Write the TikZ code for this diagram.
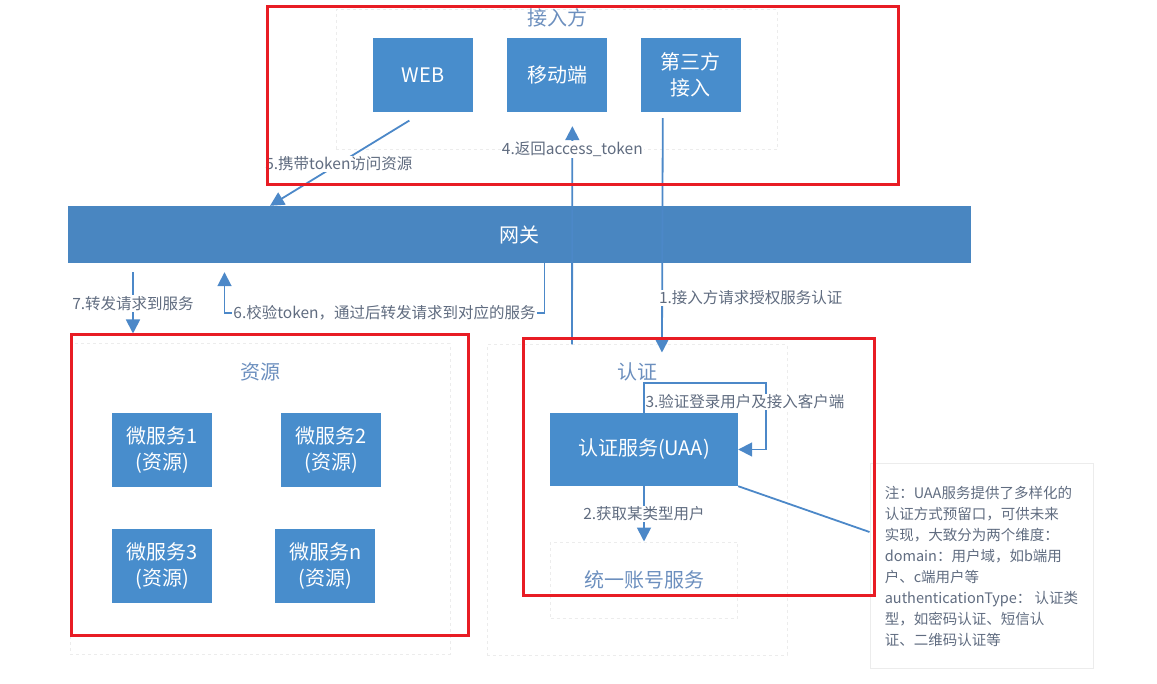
\documentclass[tikz,border=0pt]{standalone}
\usepackage{fontspec}
\setmainfont{Noto Sans CJK SC}
\usepackage{xcolor}
\usetikzlibrary{positioning,calc,arrows.meta}
\definecolor{boxblue}{RGB}{72,141,204}
\definecolor{gwblue}{RGB}{73,134,193}
\definecolor{lineblue}{RGB}{76,136,200}
\definecolor{lblgray}{RGB}{96,108,128}
\definecolor{ttlblue}{RGB}{108,143,190}
\definecolor{markred}{RGB}{232,28,36}

\begin{document}
\begin{tikzpicture}[
    x=1pt, y=-1pt,
    box/.style={rectangle, fill=boxblue, text=white, minimum width=100pt, minimum height=74pt, font=\fontsize{20}{26}\selectfont, align=center, inner sep=2pt},
    gw/.style={rectangle, fill=gwblue, text=white, minimum width=903pt, minimum height=57pt, font=\fontsize{20}{24}\selectfont},
    zone/.style={rectangle, draw=gray!15, dashed, line width=1pt},
    ttl/.style={text=ttlblue, font=\fontsize{20}{24}\selectfont},
    lbl/.style={fill=white, text=lblgray, font=\fontsize{15.5}{18}\selectfont, inner sep=1pt},
    arr/.style={draw=lineblue, line width=1.8pt, -{Triangle[width=14pt,length=14pt]}},
    redframe/.style={draw=markred, line width=3pt}
]
    \useasboundingbox (0,0) rectangle (1157,684);

    % Clients
    \node[zone, minimum width=441pt, minimum height=140pt] (acc) at (556.5,80) {};
    \node[ttl] (accTitle) at (557,18) {接入方};
    \node[box] (web) at (423,75) {WEB};
    \node[box, right=34pt of web] (mobile) {移动端};
    \node[box, right=33pt of mobile] (third) {第三方\\接入};

    % Gateway
    \node[gw] (gate) at (519.5,234.5) {网关};

    % Resources
    \node[zone, minimum width=380pt, minimum height=310pt] (res) at (260,499) {};
    \node[ttl] (resTitle) at (260,372) {资源};
    \node[box] (ms1) at (162,450) {微服务1\\(资源)};
    \node[box, right=69pt of ms1] (ms2) {微服务2\\(资源)};
    \node[box, below=42pt of ms1] (ms3) {微服务3\\(资源)};
    \node[box, right=63pt of ms3] (msn) {微服务n\\(资源)};

    % Auth
    \node[zone, minimum width=300pt, minimum height=310pt] (auth) at (637,500) {};
    \node[ttl] (authTitle) at (637,372) {认证};
    \node[box, minimum width=188pt, minimum height=73pt] (uaa) at (644,449.5) {认证服务(UAA)};
    \node[zone, ttl, minimum width=187pt, minimum height=76pt] (acct) at (644,580) {统一账号服务};

    % Note
    \node[draw=gray!15, line width=1pt, minimum width=223pt, minimum height=205pt, align=left,
          text=lblgray, font=\fontsize{14.5}{21}\selectfont] (note) at (981.5,566)
        {注：UAA服务提供了多样化的\\认证方式预留口，可供未来\\实现，大致分为两个维度：\\domain：用户域，如b端用\\户、c端用户等\\authenticationType： 认证类\\型，如密码认证、短信认\\证、二维码认证等};

    % Flows
    \draw[arr, shorten <=6pt, shorten >=-8pt] ([xshift=-28pt]third.south) -- ([xshift=25pt]auth.north)
        node[lbl, pos=0.8, anchor=west, xshift=-5pt] {1.接入方请求授权服务认证};
    \draw[arr] (uaa.south) -- (acct.north) node[lbl, midway] {2.获取某类型用户};
    \draw[arr] (uaa.north) -- ++(0,-30) -| ([xshift=28pt]uaa.east) -- (uaa.east)
        node[lbl] at (745,402) {3.验证登录用户及接入客户端};
    \draw[arr, shorten >=14pt] ([xshift=-65pt]auth.north) -- ([xshift=15pt]mobile.south)
        node[lbl, pos=0.84] {4.返回access\_token};
    \draw[arr, shorten <=16pt] (web.south) -- ($(gate.north)+(-249.5,0)$)
        node[lbl, pos=0.55] {5.携带token访问资源};
    \draw[arr, shorten >=9pt] ($(gate.south)+(25,0)$) -- ++(0,50) -| ($(gate.south)+(-295,0)$)
        node[lbl, pos=0.25] {6.校验token，通过后转发请求到对应的服务};
    \draw[arr, shorten <=9pt, shorten >=10pt] ($(gate.south)+(-386.5,0)$) -- ($(res.north)+(-127,0)$)
        node[lbl, midway] {7.转发请求到服务};
    \draw[draw=lineblue, line width=1.8pt] (uaa.south east) -- ($(note.west)+(0,-34)$);

    % Marks
    \draw[redframe] (267,7) rectangle (898,185);
    \draw[redframe] (71,335) rectangle (468,635);
    \draw[redframe] (523,339) rectangle (874,595);
\end{tikzpicture}
\end{document}
